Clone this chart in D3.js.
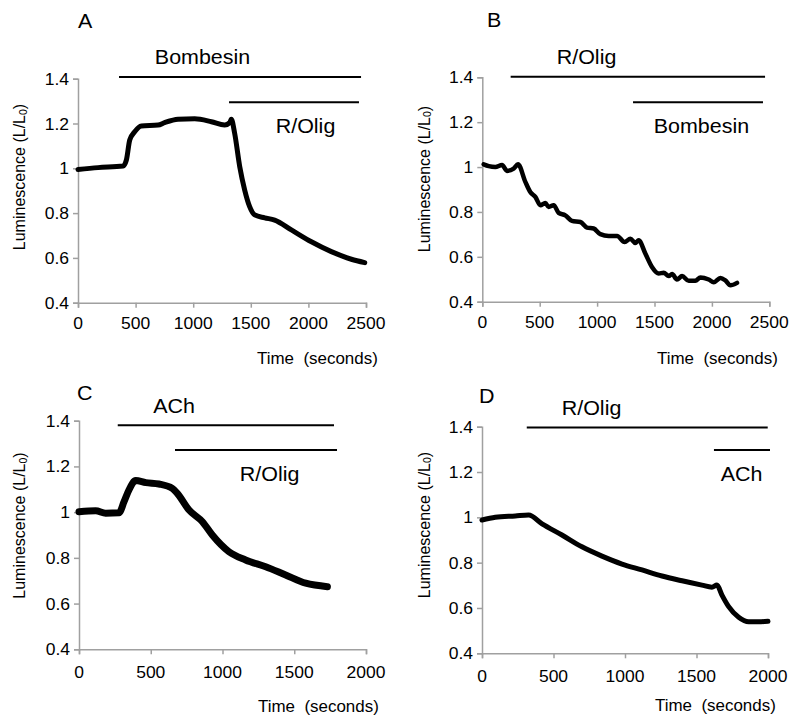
<!DOCTYPE html>
<html>
<head>
<meta charset="utf-8">
<script src="https://cdn.jsdelivr.net/npm/d3@7"></script>
<style>
  html, body { margin: 0; padding: 0; background: #fff; }
  svg { display: block; font-family: "Liberation Sans", Arial, sans-serif; }
</style>
</head>
<body>
<svg id="chart" width="800" height="728"></svg>
<script>
// ---------------- DATA ----------------
const yTicks = [0.4, 0.6, 0.8, 1, 1.2, 1.4];
const yTickLabels = ["0.4", "0.6", "0.8", "1", "1.2", "1.4"];
const xTicksAB = [0, 500, 1000, 1500, 2000, 2500];
const xTicksCD = [0, 500, 1000, 1500, 2000];

// Panel A: Bombesin then R/Olig
const timeA = [0, 174, 391, 420, 449, 492, 550, 695, 752, 868, 1013, 1158, 1273, 1317, 1331, 1360, 1404, 1447, 1490, 1534, 1621, 1707, 1852, 2026, 2199, 2373, 2489];
const lumA  = [0.995, 1.003, 1.010, 1.037, 1.126, 1.163, 1.189, 1.193, 1.204, 1.219, 1.221, 1.208, 1.193, 1.204, 1.219, 1.156, 1.007, 0.903, 0.829, 0.792, 0.779, 0.769, 0.725, 0.672, 0.628, 0.594, 0.579];

// Panel B: R/Olig then Bombesin
const timeB = [12, 56, 114, 172, 215, 273, 311, 375, 418, 462, 506, 549, 578, 622, 665, 723, 781, 854, 912, 970, 1028, 1101, 1174, 1240, 1290, 1333, 1362, 1420, 1478, 1537, 1580, 1624, 1653, 1696, 1740, 1798, 1856, 1900, 1972, 2016, 2074, 2117, 2161, 2219];
const lumB  = [1.012, 1.004, 1.000, 1.009, 0.983, 0.993, 1.012, 0.934, 0.889, 0.867, 0.830, 0.840, 0.822, 0.830, 0.796, 0.785, 0.760, 0.755, 0.730, 0.726, 0.701, 0.693, 0.693, 0.666, 0.681, 0.662, 0.674, 0.615, 0.555, 0.526, 0.529, 0.514, 0.523, 0.499, 0.514, 0.493, 0.493, 0.508, 0.499, 0.487, 0.506, 0.495, 0.473, 0.484];

// Panel C: ACh then R/Olig
const timeC = [0, 116, 186, 279, 314, 348, 395, 465, 557, 650, 685, 767, 860, 929, 1045, 1161, 1301, 1440, 1580, 1731];
const lumC  = [1.002, 1.006, 0.995, 0.997, 1.046, 1.097, 1.138, 1.129, 1.123, 1.104, 1.082, 1.009, 0.958, 0.900, 0.827, 0.791, 0.761, 0.725, 0.689, 0.674];

// Panel D: R/Olig then ACh
const timeD = [0, 93, 233, 326, 420, 559, 699, 839, 979, 1119, 1259, 1399, 1538, 1608, 1643, 1678, 1725, 1795, 1865, 1935, 2000];
const lumD  = [0.988, 1.000, 1.006, 1.010, 0.971, 0.922, 0.870, 0.829, 0.794, 0.768, 0.741, 0.720, 0.701, 0.692, 0.701, 0.657, 0.606, 0.559, 0.539, 0.539, 0.541];

// Treatment bars: label, start time, end time, level, label centre time
const barLabelsA = ["Bombesin", "R/Olig"];
const barStartA = [356, 1311], barEndA = [2457, 2439], barLevelA = [1.408, 1.295], barTextXA = [1081, 1975];
const barLabelsB = ["R/Olig", "Bombesin"];
const barStartB = [247, 1313], barEndB = [2463, 2445], barLevelB = [1.403, 1.289], barTextXB = [908, 1909];
const barLabelsC = ["ACh", "R/Olig"];
const barStartC = [270, 669], barEndC = [1777, 1798], barLevelC = [1.380, 1.272], barTextXC = [662, 1328];
const barLabelsD = ["R/Olig", "ACh"];
const barStartD = [313, 1622], barEndD = [1998, 2014], barLevelD = [1.397, 1.297], barTextXD = [766, 1815];
const barSide = ["above", "below"];

const panelLetters = ["A", "B", "C", "D"];
const xTitle = "Time  (seconds)";

// ---------------- LAYOUT ----------------
const panels = [
  { letter: panelLetters[0], x0: 78,  y0: 78.7,  w: 288, h: 224,   xMax: 2500, ticks: xTicksAB,
    t: timeA, v: lumA, sw: 5, bars: [barLabelsA, barStartA, barEndA, barLevelA, barTextXA],
    letterPos: [78, 27.7], yTitle: [19, 177], xTitlePos: [257, 363.5], xlab: 26.5 },
  { letter: panelLetters[1], x0: 482.3, y0: 77.3, w: 287, h: 224.4, xMax: 2500, ticks: xTicksAB,
    t: timeB, v: lumB, sw: 4.5, bars: [barLabelsB, barStartB, barEndB, barLevelB, barTextXB],
    letterPos: [487, 27.3], yTitle: [423.5, 179], xTitlePos: [657, 363.5], xlab: 26.5 },
  { letter: panelLetters[2], x0: 79,  y0: 420.7, w: 287, h: 228.6, xMax: 2000, ticks: xTicksCD,
    t: timeC, v: lumC, sw: 7, bars: [barLabelsC, barStartC, barEndC, barLevelC, barTextXC],
    letterPos: [77, 400], yTitle: [19, 525.5], xTitlePos: [258, 712], xlab: 28.3 },
  { letter: panelLetters[3], x0: 482, y0: 426.7, w: 286, h: 226.6, xMax: 2000, ticks: xTicksCD,
    t: timeD, v: lumD, sw: 5, bars: [barLabelsD, barStartD, barEndD, barLevelD, barTextXD],
    letterPos: [479, 403.3], yTitle: [423.5, 525], xTitlePos: [655, 710.5], xlab: 28.3 }
];

const svg = d3.select("#chart");
const AXIS = "#a0a0a0";

// text with slight horizontal stretch (matches the reference's aspect)
function stext(g, x, y, str, size, anchor, sx) {
  return g.append("text")
    .attr("transform", `translate(${x},${y}) scale(${sx},1)`)
    .attr("text-anchor", anchor)
    .attr("font-size", size)
    .attr("fill", "#000")
    .text(str);
}

panels.forEach(p => {
  const g = svg.append("g");
  const x = d3.scaleLinear().domain([0, p.xMax]).range([p.x0, p.x0 + p.w]);
  const y = d3.scaleLinear().domain([0.4, 1.4]).range([p.y0 + p.h, p.y0]);

  // y axis
  const yAxis = d3.axisLeft(y).tickValues(yTicks).tickSize(5).tickFormat(() => "");
  const ya = g.append("g").attr("transform", `translate(${p.x0},0)`).call(yAxis);
  // x axis
  const xAxis = d3.axisBottom(x).tickValues(p.ticks).tickSize(5).tickFormat(() => "");
  const xa = g.append("g").attr("transform", `translate(0,${p.y0 + p.h})`).call(xAxis);
  [ya, xa].forEach(a => {
    a.select(".domain").attr("stroke", AXIS).attr("stroke-width", 1.5);
    a.selectAll(".tick line").attr("stroke", AXIS).attr("stroke-width", 1.5);
  });

  // tick labels
  yTicks.forEach((tv, i) => {
    stext(g, p.x0 - 9, y(tv) + 6, yTickLabels[i], 17, "end", 1.03);
  });
  p.ticks.forEach(tv => {
    stext(g, x(tv), p.y0 + p.h + p.xlab, String(tv), 17, "middle", 1.03);
  });

  // axis titles
  stext(g, p.xTitlePos[0], p.xTitlePos[1], xTitle, 16, "start", 1.06).style("white-space", "pre");

  const yt = g.append("text")
    .attr("transform", `translate(${p.yTitle[0]},${p.yTitle[1]}) rotate(-90)`)
    .attr("text-anchor", "middle")
    .attr("dominant-baseline", "central")
    .attr("font-size", 16)
    .attr("fill", "#000");
  yt.append("tspan").text("Luminescence (L/L");
  yt.append("tspan").attr("font-size", 10.5).attr("dy", 3.5).text("0");
  yt.append("tspan").attr("dy", -3.5).text(")");

  // panel letter
  stext(g, p.letterPos[0], p.letterPos[1], p.letter, 19.5, "start", 1.1);

  // treatment bars
  const [labels, starts, ends, levels, textX] = p.bars;
  labels.forEach((lab, i) => {
    g.append("line")
      .attr("x1", x(starts[i])).attr("x2", x(ends[i]))
      .attr("y1", y(levels[i])).attr("y2", y(levels[i]))
      .attr("stroke", "#000").attr("stroke-width", 2);
    const by = y(levels[i]) + (barSide[i] === "above" ? -12.5 : 31);
    stext(g, x(textX[i]), by, lab, 19.5, "middle", 1.1);
  });

  // data trace
  const pts = p.t.map((tv, i) => [tv, p.v[i]]);
  const line = d3.line().x(d => x(d[0])).y(d => y(d[1])).curve(d3.curveMonotoneX);
  g.append("path")
    .attr("d", line(pts))
    .attr("fill", "none")
    .attr("stroke", "#000")
    .attr("stroke-width", p.sw)
    .attr("stroke-linejoin", "round")
    .attr("stroke-linecap", "round");
});
</script>
</body>
</html>
